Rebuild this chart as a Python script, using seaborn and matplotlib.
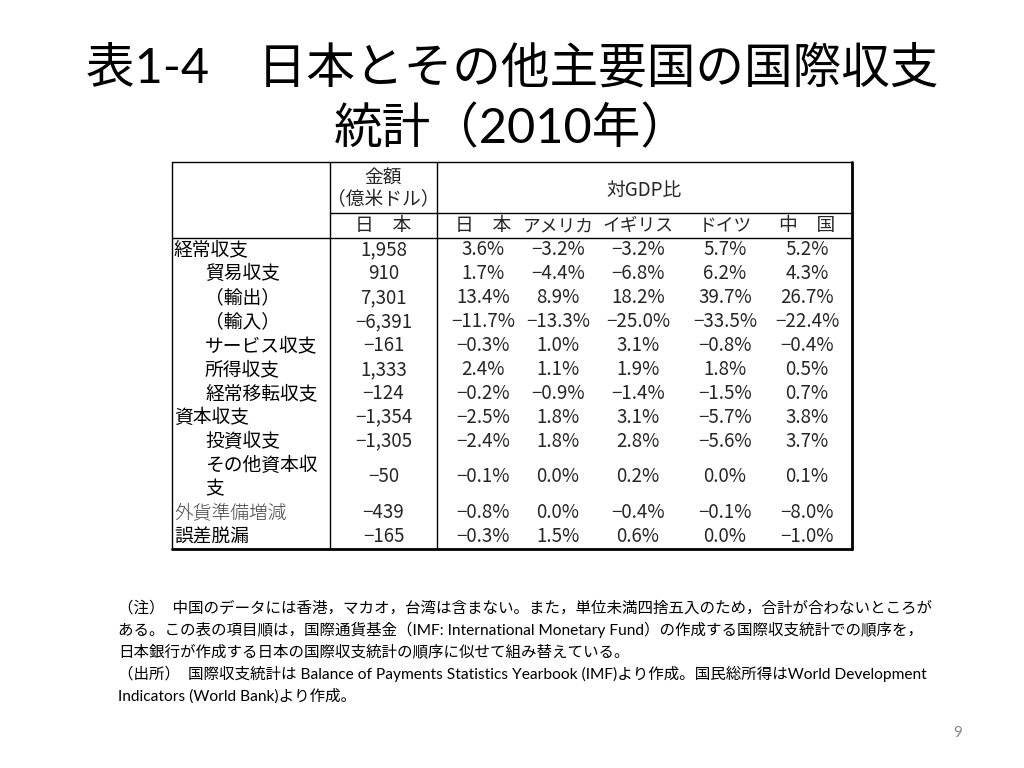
import matplotlib
matplotlib.use("Agg")
import matplotlib.pyplot as plt
import seaborn as sns

sns.set_theme(style="white")
plt.rcParams['font.family'] = ['Noto Sans CJK JP', 'DejaVu Sans']

# ---- data ----
items = ["経常収支", "貿易収支", "（輸出）", "（輸入）", "サービス収支", "所得収支",
         "経常移転収支", "資本収支", "投資収支", "その他資本収\n支", "外貨準備増減", "誤差脱漏"]
indent = [0, 1, 1, 1, 1, 1, 1, 0, 1, 1, 0, 0]
amount_japan = [1958, 910, 7301, -6391, -161, 1333, -124, -1354, -1305, -50, -439, -165]
countries = ["日　本", "アメリカ", "イギリス", "ドイツ", "中　国"]
gdp_japan = [3.6, 1.7, 13.4, -11.7, -0.3, 2.4, -0.2, -2.5, -2.4, -0.1, -0.8, -0.3]
gdp_usa = [-3.2, -4.4, 8.9, -13.3, 1.0, 1.1, -0.9, 1.8, 1.8, 0.0, 0.0, 1.5]
gdp_uk = [-3.2, -6.8, 18.2, -25.0, 3.1, 1.9, -1.4, 3.1, 2.8, 0.2, -0.4, 0.6]
gdp_germany = [5.7, 6.2, 39.7, -33.5, -0.8, 1.8, -1.5, -5.7, -5.6, 0.0, -0.1, 0.0]
gdp_china = [5.2, 4.3, 26.7, -22.4, -0.4, 0.5, 0.7, 3.8, 3.7, 0.1, -8.0, -1.0]
gdp_cols = [gdp_japan, gdp_usa, gdp_uk, gdp_germany, gdp_china]

title_lines = ["表1-4　日本とその他主要国の国際収支", "統計（2010年）"]
notes = [
    "（注）  中国のデータには香港，マカオ，台湾は含まない。また，単位未満四捨五入のため，合計が合わないところが",
    "ある。この表の項目順は，国際通貨基金（IMF: International Monetary Fund）の作成する国際収支統計での順序を，",
    "日本銀行が作成する日本の国際収支統計の順序に似せて組み替えている。",
    "（出所）  国際収支統計は Balance of Payments Statistics Yearbook (IMF)より作成。国民総所得はWorld Development",
    "Indicators (World Bank)より作成。",
]
page_no = "9"


def fmt_amount(v):
    return f"{v:,}".replace("-", "−")


def fmt_pct(v):
    return f"{v:.1f}%".replace("-", "−")


# ---- layout (pixels) ----
fig = plt.figure(figsize=(10.24, 7.68), dpi=100)
ax = fig.add_axes([0, 0, 1, 1])
ax.set_xlim(0, 1024)
ax.set_ylim(768, 0)
ax.axis("off")

title_font = ['Lato', 'Noto Sans CJK JP']
for i, line in enumerate(title_lines):
    ax.text(512, 68 + 60 * i, line, ha="center", va="center", fontsize=35,
            family=title_font, color="black")

left, x_lbl, x_amt, right = 172, 330, 437, 852
top, mid, head_bot = 162, 213, 238
unit = 23.9
gdp_centers = [483, 558, 638, 725, 807]
amt_center = (x_lbl + x_amt) / 2

units = [2 if "\n" in s else 1 for s in items]
bottom = head_bot + unit * sum(units)

lw = 1.0
ax.plot([left, right], [top, top], color="black", lw=lw)
ax.plot([x_lbl, right], [mid, mid], color="black", lw=lw)
ax.plot([left, right], [head_bot, head_bot], color="black", lw=lw)
ax.plot([left, right], [bottom, bottom], color="black", lw=2)
ax.plot([left, left], [top, bottom], color="black", lw=lw)
ax.plot([right, right], [top, bottom], color="black", lw=2)
for xv in (x_lbl, x_amt):
    ax.plot([xv, xv], [top, bottom], color="black", lw=lw)

fs = 13.5
ax.text(amt_center, 178, "金額", ha="center", va="center", fontsize=fs)
ax.text(amt_center, 200, "（億米ドル）", ha="center", va="center", fontsize=fs)
ax.text((x_amt + right) / 2, 190, "対GDP比", ha="center", va="center", fontsize=fs)
ax.text(amt_center, 226, "日　本", ha="center", va="center", fontsize=fs)
for xc, name in zip(gdp_centers, countries):
    ax.text(xc, 226, name, ha="center", va="center",
            fontsize=fs if "　" in name else 12.8)

y0 = head_bot
for i, label in enumerate(items):
    h = unit * units[i]
    yc = y0 + h / 2
    xl = left + 2 + 31 * indent[i]
    style = dict(fontsize=fs, color="black")
    if label == "外貨準備増減":
        style = dict(fontsize=fs, color="#444444", fontweight="light")
    if "\n" in label:
        for j, part in enumerate(label.split("\n")):
            ax.text(xl, y0 + unit * (j + 0.5), part, ha="left", va="center", **style)
    else:
        ax.text(xl, yc, label, ha="left", va="center", **style)
    ax.text(amt_center, yc, fmt_amount(amount_japan[i]), ha="center", va="center", fontsize=fs)
    for xc, col in zip(gdp_centers, gdp_cols):
        ax.text(xc, yc, fmt_pct(col[i]), ha="center", va="center", fontsize=fs)
    y0 += h

note_font = ['Lato', 'Noto Sans CJK JP']
for i, line in enumerate(notes):
    ax.text(118, 608 + 22 * i, line, ha="left", va="center", fontsize=11.2,
            family=note_font, color="black")

ax.text(958, 733, page_no, ha="center", va="center", fontsize=11,
        family=note_font, color="#888888")

plt.savefig("out.png", dpi=100)
